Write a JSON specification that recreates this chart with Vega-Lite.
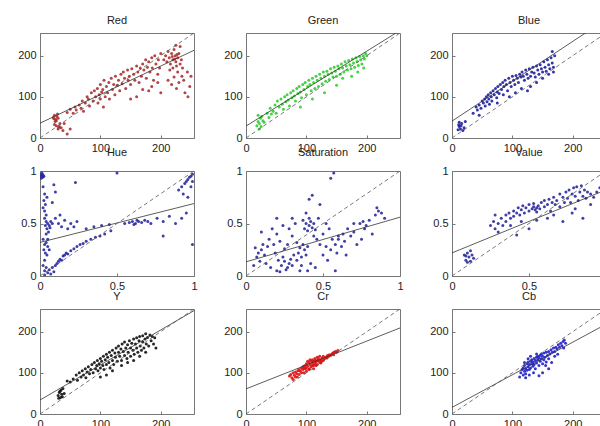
{
"$schema":"https://vega.github.io/schema/vega-lite/v6.json",
"padding":{"left":17,"top":14,"right":0,"bottom":0},
"background":"white",
"datasets":{
"red":[{"x":22,"y":50},{"x":24,"y":55},{"x":26,"y":45},{"x":28,"y":52},{"x":25,"y":40},{"x":30,"y":48},{"x":27,"y":30},{"x":32,"y":28},{"x":30,"y":22},{"x":35,"y":25},{"x":33,"y":35},{"x":24,"y":33},{"x":29,"y":58},{"x":38,"y":18},{"x":45,"y":10},{"x":50,"y":22},{"x":40,"y":35},{"x":23,"y":47},{"x":27,"y":42},{"x":31,"y":26},
{"x":45,"y":62},{"x":50,"y":70},{"x":55,"y":60},{"x":58,"y":75},{"x":60,"y":68},{"x":65,"y":80},{"x":68,"y":72},{"x":70,"y":90},{"x":72,"y":65},{"x":75,"y":85},{"x":78,"y":100},{"x":80,"y":95},{"x":82,"y":78},{"x":85,"y":110},{"x":88,"y":90},{"x":90,"y":115},{"x":92,"y":100},{"x":95,"y":120},{"x":96,"y":85},{"x":98,"y":105},{"x":100,"y":130},{"x":100,"y":95},{"x":102,"y":112},{"x":104,"y":118},{"x":105,"y":75},{"x":106,"y":140},{"x":108,"y":100},{"x":110,"y":125},{"x":112,"y":110},{"x":114,"y":135},{"x":115,"y":95},{"x":118,"y":145},{"x":120,"y":118},{"x":122,"y":130},{"x":124,"y":105},{"x":125,"y":150},{"x":128,"y":128},{"x":130,"y":140},{"x":132,"y":115},{"x":134,"y":155},{"x":136,"y":132},{"x":138,"y":160},{"x":140,"y":145},{"x":142,"y":120},{"x":145,"y":165},{"x":146,"y":140},{"x":148,"y":150},{"x":150,"y":130},{"x":152,"y":168},{"x":155,"y":155},{"x":157,"y":140},{"x":160,"y":175},{"x":162,"y":160},{"x":164,"y":135},{"x":166,"y":170},{"x":168,"y":150},{"x":170,"y":180},{"x":172,"y":165},{"x":175,"y":190},{"x":176,"y":145},{"x":178,"y":172},{"x":180,"y":185},{"x":182,"y":160},{"x":185,"y":195},{"x":186,"y":170},{"x":188,"y":140},{"x":190,"y":200},{"x":192,"y":180},{"x":195,"y":155},{"x":196,"y":190},{"x":198,"y":170},{"x":200,"y":205},
{"x":205,"y":190},{"x":208,"y":200},{"x":210,"y":185},{"x":212,"y":210},{"x":214,"y":195},{"x":216,"y":180},{"x":218,"y":205},{"x":220,"y":190},{"x":222,"y":215},{"x":224,"y":200},{"x":225,"y":185},{"x":226,"y":175},{"x":228,"y":195},{"x":230,"y":205},{"x":232,"y":180},{"x":234,"y":190},{"x":236,"y":170},{"x":215,"y":165},{"x":220,"y":170},{"x":228,"y":160},{"x":225,"y":225},{"x":232,"y":222},{"x":219,"y":198},{"x":223,"y":192},{"x":227,"y":203},
{"x":212,"y":140},{"x":218,"y":130},{"x":222,"y":148},{"x":226,"y":120},{"x":230,"y":135},{"x":235,"y":150},{"x":240,"y":110},{"x":245,"y":100},{"x":248,"y":125},{"x":244,"y":160},{"x":250,"y":150},{"x":238,"y":140},{"x":200,"y":110},{"x":195,"y":135},{"x":180,"y":115},{"x":185,"y":125},{"x":170,"y":118},{"x":160,"y":100},{"x":150,"y":95}],
"green":[{"x":18,"y":30},{"x":20,"y":40},{"x":22,"y":35},{"x":24,"y":48},{"x":20,"y":55},{"x":25,"y":28},{"x":28,"y":42},{"x":26,"y":52},{"x":22,"y":22},{"x":30,"y":38},
{"x":35,"y":60},{"x":38,"y":50},{"x":40,"y":72},{"x":42,"y":58},{"x":45,"y":65},{"x":48,"y":80},{"x":50,"y":60},{"x":52,"y":90},{"x":55,"y":75},{"x":58,"y":95},{"x":60,"y":82},{"x":62,"y":70},{"x":64,"y":100},{"x":66,"y":88},{"x":68,"y":105},{"x":70,"y":92},{"x":72,"y":78},{"x":74,"y":110},{"x":76,"y":98},{"x":78,"y":115},{"x":80,"y":102},{"x":82,"y":90},{"x":84,"y":120},{"x":86,"y":108},{"x":88,"y":125},{"x":90,"y":112},{"x":92,"y":98},{"x":94,"y":130},{"x":96,"y":118},{"x":98,"y":135},{"x":100,"y":105},{"x":102,"y":125},{"x":104,"y":140},{"x":106,"y":130},{"x":108,"y":115},{"x":110,"y":145},{"x":112,"y":135},{"x":114,"y":120},{"x":116,"y":150},{"x":118,"y":140},{"x":120,"y":125},{"x":122,"y":155},{"x":124,"y":145},{"x":126,"y":132},{"x":128,"y":160},{"x":130,"y":150},{"x":132,"y":138},{"x":134,"y":162},{"x":136,"y":155},{"x":138,"y":142},{"x":140,"y":168},{"x":142,"y":158},{"x":144,"y":148},{"x":146,"y":172},{"x":148,"y":162},{"x":150,"y":150},{"x":152,"y":175},{"x":154,"y":168},{"x":156,"y":155},{"x":158,"y":180},{"x":160,"y":170},{"x":162,"y":160},{"x":164,"y":185},{"x":166,"y":175},{"x":168,"y":165},{"x":170,"y":188},{"x":172,"y":178},{"x":174,"y":168},{"x":176,"y":192},{"x":178,"y":182},{"x":180,"y":172},{"x":182,"y":195},{"x":184,"y":186},{"x":186,"y":176},{"x":188,"y":198},{"x":190,"y":190},{"x":192,"y":180},{"x":194,"y":200},{"x":196,"y":192},{"x":198,"y":205},{"x":200,"y":200},{"x":195,"y":170},{"x":185,"y":160},{"x":175,"y":150},{"x":160,"y":145},{"x":150,"y":128},{"x":90,"y":75},{"x":110,"y":95},{"x":130,"y":110}],
"blue":[{"x":10,"y":20},{"x":12,"y":28},{"x":14,"y":22},{"x":16,"y":35},{"x":12,"y":38},{"x":18,"y":18},{"x":15,"y":30},{"x":20,"y":25},{"x":11,"y":32},{"x":22,"y":40},
{"x":35,"y":60},{"x":40,"y":75},{"x":42,"y":68},{"x":45,"y":80},{"x":48,"y":72},{"x":50,"y":90},{"x":52,"y":85},{"x":54,"y":95},{"x":55,"y":78},{"x":57,"y":100},{"x":58,"y":88},{"x":60,"y":105},{"x":61,"y":95},{"x":62,"y":82},{"x":64,"y":110},{"x":65,"y":100},{"x":66,"y":90},{"x":68,"y":115},{"x":70,"y":105},{"x":72,"y":120},{"x":74,"y":98},{"x":75,"y":112},{"x":76,"y":125},{"x":78,"y":108},{"x":80,"y":130},{"x":82,"y":118},{"x":84,"y":135},{"x":85,"y":105},{"x":86,"y":125},{"x":88,"y":140},{"x":90,"y":130},{"x":92,"y":115},{"x":94,"y":145},{"x":96,"y":135},{"x":98,"y":125},{"x":100,"y":150},{"x":102,"y":140},{"x":104,"y":130},{"x":106,"y":152},{"x":108,"y":145},{"x":110,"y":135},{"x":112,"y":155},{"x":114,"y":148},{"x":115,"y":120},{"x":116,"y":160},{"x":118,"y":150},{"x":120,"y":140},{"x":122,"y":165},{"x":124,"y":155},{"x":126,"y":145},{"x":128,"y":168},{"x":130,"y":150},{"x":132,"y":160},{"x":134,"y":172},{"x":136,"y":158},{"x":138,"y":148},{"x":140,"y":175},{"x":142,"y":165},{"x":144,"y":155},{"x":146,"y":178},{"x":148,"y":168},{"x":150,"y":160},{"x":152,"y":185},{"x":154,"y":172},{"x":156,"y":162},{"x":158,"y":190},{"x":160,"y":178},{"x":162,"y":168},{"x":164,"y":195},{"x":166,"y":182},{"x":168,"y":172},{"x":170,"y":200},{"x":160,"y":155},{"x":150,"y":145},{"x":140,"y":135},{"x":130,"y":125},{"x":166,"y":210},{"x":168,"y":160},{"x":125,"y":115},{"x":105,"y":110},{"x":95,"y":100},{"x":75,"y":85},{"x":45,"y":55}],
"hue":[{"x":0.005,"y":0.96},{"x":0.01,"y":0.95},{"x":0.015,"y":0.97},{"x":0.008,"y":0.93},{"x":0.02,"y":0.96},{"x":0.012,"y":0.98},{"x":0.018,"y":0.94},{"x":0.025,"y":0.95},
{"x":0.02,"y":0.85},{"x":0.03,"y":0.78},{"x":0.025,"y":0.72},{"x":0.035,"y":0.68},{"x":0.03,"y":0.62},{"x":0.04,"y":0.58},{"x":0.045,"y":0.75},{"x":0.02,"y":0.65},{"x":0.09,"y":0.87},{"x":0.1,"y":0.8},{"x":0.08,"y":0.7},
{"x":0.03,"y":0.55},{"x":0.04,"y":0.52},{"x":0.05,"y":0.5},{"x":0.06,"y":0.48},{"x":0.045,"y":0.45},{"x":0.055,"y":0.42},{"x":0.07,"y":0.52},{"x":0.065,"y":0.46},{"x":0.035,"y":0.48},{"x":0.08,"y":0.5},{"x":0.04,"y":0.4},
{"x":0.1,"y":0.55},{"x":0.12,"y":0.5},{"x":0.14,"y":0.47},{"x":0.16,"y":0.53},{"x":0.18,"y":0.45},{"x":0.2,"y":0.5},{"x":0.22,"y":0.47},{"x":0.24,"y":0.52},{"x":0.13,"y":0.58},
{"x":0.02,"y":0.35},{"x":0.03,"y":0.3},{"x":0.04,"y":0.32},{"x":0.025,"y":0.25},{"x":0.035,"y":0.22},{"x":0.05,"y":0.28},{"x":0.045,"y":0.2},{"x":0.03,"y":0.15},{"x":0.05,"y":0.35},{"x":0.06,"y":0.25},
{"x":0.02,"y":0.1},{"x":0.03,"y":0.05},{"x":0.04,"y":0.08},{"x":0.05,"y":0.03},{"x":0.06,"y":0.06},{"x":0.07,"y":0.02},{"x":0.08,"y":0.08},{"x":0.03,"y":0.01},{"x":0.09,"y":0.04},{"x":0.1,"y":0.1},
{"x":0.11,"y":0.12},{"x":0.12,"y":0.14},{"x":0.13,"y":0.16},{"x":0.14,"y":0.15},{"x":0.15,"y":0.19},{"x":0.16,"y":0.2},{"x":0.17,"y":0.22},{"x":0.18,"y":0.21},{"x":0.2,"y":0.24},{"x":0.22,"y":0.26},{"x":0.24,"y":0.28},{"x":0.26,"y":0.3},{"x":0.28,"y":0.31},{"x":0.3,"y":0.33},{"x":0.33,"y":0.35},{"x":0.36,"y":0.37},{"x":0.39,"y":0.38},{"x":0.42,"y":0.4},{"x":0.46,"y":0.43},
{"x":0.3,"y":0.45},{"x":0.35,"y":0.47},{"x":0.4,"y":0.48},{"x":0.45,"y":0.49},{"x":0.55,"y":0.5},{"x":0.58,"y":0.51},{"x":0.6,"y":0.52},{"x":0.62,"y":0.5},{"x":0.64,"y":0.52},{"x":0.66,"y":0.51},{"x":0.68,"y":0.53},{"x":0.7,"y":0.52},{"x":0.72,"y":0.5},{"x":0.63,"y":0.53},{"x":0.61,"y":0.49},
{"x":0.76,"y":0.55},{"x":0.8,"y":0.52},{"x":0.84,"y":0.57},{"x":0.88,"y":0.5},{"x":0.92,"y":0.55},{"x":0.95,"y":0.6},{"x":0.8,"y":0.38},{"x":0.99,"y":0.3},{"x":0.23,"y":0.89},{"x":0.5,"y":0.98},
{"x":0.9,"y":0.82},{"x":0.92,"y":0.85},{"x":0.94,"y":0.88},{"x":0.95,"y":0.9},{"x":0.96,"y":0.92},{"x":0.97,"y":0.94},{"x":0.98,"y":0.95},{"x":0.99,"y":0.97},{"x":0.93,"y":0.78},{"x":0.98,"y":0.85},{"x":0.96,"y":0.75},{"x":0.99,"y":0.9}],
"sat":[{"x":0.06,"y":0.27},{"x":0.08,"y":0.22},{"x":0.1,"y":0.25},{"x":0.12,"y":0.2},{"x":0.14,"y":0.28},{"x":0.07,"y":0.18},{"x":0.11,"y":0.3},{"x":0.09,"y":0.14},{"x":0.05,"y":0.1},{"x":0.13,"y":0.12},
{"x":0.15,"y":0.35},{"x":0.18,"y":0.3},{"x":0.2,"y":0.4},{"x":0.22,"y":0.33},{"x":0.17,"y":0.45},{"x":0.24,"y":0.48},{"x":0.19,"y":0.22},{"x":0.21,"y":0.15},{"x":0.16,"y":0.08},{"x":0.2,"y":0.05},
{"x":0.23,"y":0.1},{"x":0.25,"y":0.14},{"x":0.27,"y":0.08},{"x":0.24,"y":0.18},{"x":0.28,"y":0.12},{"x":0.26,"y":0.06},{"x":0.29,"y":0.16},{"x":0.3,"y":0.1},{"x":0.22,"y":0.04},{"x":0.31,"y":0.2},
{"x":0.28,"y":0.45},{"x":0.3,"y":0.38},{"x":0.32,"y":0.5},{"x":0.27,"y":0.3},{"x":0.25,"y":0.26},{"x":0.33,"y":0.32},{"x":0.34,"y":0.22},{"x":0.35,"y":0.27},{"x":0.36,"y":0.18},{"x":0.38,"y":0.25},
{"x":0.37,"y":0.3},{"x":0.39,"y":0.2},{"x":0.4,"y":0.28},{"x":0.33,"y":0.15},{"x":0.36,"y":0.1},{"x":0.4,"y":0.05},{"x":0.42,"y":0.12},{"x":0.38,"y":0.45},{"x":0.39,"y":0.5},{"x":0.4,"y":0.43},
{"x":0.41,"y":0.48},{"x":0.42,"y":0.52},{"x":0.43,"y":0.46},{"x":0.44,"y":0.5},{"x":0.45,"y":0.44},{"x":0.37,"y":0.53},{"x":0.41,"y":0.55},{"x":0.44,"y":0.38},{"x":0.46,"y":0.35},{"x":0.48,"y":0.3},
{"x":0.5,"y":0.4},{"x":0.52,"y":0.28},{"x":0.5,"y":0.2},{"x":0.53,"y":0.15},{"x":0.55,"y":0.25},{"x":0.56,"y":0.35},{"x":0.54,"y":0.45},{"x":0.58,"y":0.3},{"x":0.6,"y":0.35},{"x":0.62,"y":0.28},
{"x":0.64,"y":0.33},{"x":0.6,"y":0.38},{"x":0.63,"y":0.4},{"x":0.59,"y":0.22},{"x":0.66,"y":0.45},{"x":0.68,"y":0.38},{"x":0.7,"y":0.42},{"x":0.72,"y":0.3},{"x":0.65,"y":0.2},{"x":0.7,"y":0.5},
{"x":0.74,"y":0.5},{"x":0.76,"y":0.52},{"x":0.78,"y":0.48},{"x":0.8,"y":0.53},{"x":0.77,"y":0.45},{"x":0.82,"y":0.4},{"x":0.84,"y":0.58},{"x":0.86,"y":0.62},{"x":0.88,"y":0.6},{"x":0.85,"y":0.65},
{"x":0.9,"y":0.55},{"x":0.75,"y":0.35},{"x":0.57,"y":0.98},{"x":0.55,"y":0.93},{"x":0.43,"y":0.77},{"x":0.41,"y":0.73},{"x":0.48,"y":0.68},{"x":0.39,"y":0.6},{"x":0.2,"y":0.55},{"x":0.1,"y":0.42},
{"x":0.47,"y":0.55},{"x":0.52,"y":0.5},{"x":0.3,"y":0.55},{"x":0.35,"y":0.05},{"x":0.45,"y":0.08},{"x":0.58,"y":0.05}],
"val":[{"x":0.08,"y":0.2},{"x":0.09,"y":0.15},{"x":0.1,"y":0.22},{"x":0.11,"y":0.18},{"x":0.12,"y":0.14},{"x":0.1,"y":0.13},{"x":0.13,"y":0.2},{"x":0.12,"y":0.24},{"x":0.14,"y":0.17},{"x":0.09,"y":0.19},
{"x":0.25,"y":0.48},{"x":0.27,"y":0.52},{"x":0.28,"y":0.45},{"x":0.3,"y":0.5},{"x":0.3,"y":0.42},{"x":0.32,"y":0.55},{"x":0.33,"y":0.48},{"x":0.35,"y":0.58},{"x":0.35,"y":0.52},{"x":0.37,"y":0.6},
{"x":0.38,"y":0.55},{"x":0.4,"y":0.62},{"x":0.4,"y":0.57},{"x":0.42,"y":0.6},{"x":0.43,"y":0.65},{"x":0.44,"y":0.58},{"x":0.45,"y":0.63},{"x":0.46,"y":0.67},{"x":0.47,"y":0.6},{"x":0.48,"y":0.65},
{"x":0.5,"y":0.62},{"x":0.5,"y":0.68},{"x":0.52,"y":0.64},{"x":0.53,"y":0.66},{"x":0.54,"y":0.63},{"x":0.55,"y":0.65},{"x":0.56,"y":0.67},{"x":0.55,"y":0.61},{"x":0.57,"y":0.64},{"x":0.53,"y":0.69},
{"x":0.58,"y":0.7},{"x":0.6,"y":0.66},{"x":0.6,"y":0.72},{"x":0.62,"y":0.68},{"x":0.63,"y":0.73},{"x":0.64,"y":0.62},{"x":0.65,"y":0.7},{"x":0.66,"y":0.75},{"x":0.67,"y":0.68},{"x":0.68,"y":0.72},
{"x":0.7,"y":0.78},{"x":0.7,"y":0.66},{"x":0.72,"y":0.75},{"x":0.73,"y":0.7},{"x":0.74,"y":0.8},{"x":0.75,"y":0.74},{"x":0.76,"y":0.82},{"x":0.77,"y":0.7},{"x":0.78,"y":0.78},{"x":0.79,"y":0.84},
{"x":0.8,"y":0.76},{"x":0.81,"y":0.85},{"x":0.82,"y":0.72},{"x":0.83,"y":0.8},{"x":0.84,"y":0.86},{"x":0.85,"y":0.76},{"x":0.86,"y":0.82},{"x":0.87,"y":0.74},{"x":0.88,"y":0.8},{"x":0.9,"y":0.78},
{"x":0.92,"y":0.75},{"x":0.94,"y":0.8},{"x":0.96,"y":0.84},{"x":0.72,"y":0.52},{"x":0.78,"y":0.6},{"x":0.85,"y":0.55},{"x":0.8,"y":0.64},{"x":0.9,"y":0.68},{"x":0.66,"y":0.58},{"x":0.62,"y":0.55},
{"x":0.42,"y":0.39},{"x":0.5,"y":0.45},{"x":0.55,"y":0.53},{"x":0.38,"y":0.48},{"x":0.45,"y":0.52},{"x":0.28,"y":0.58}],
"ylum":[{"x":30,"y":45},{"x":32,"y":52},{"x":34,"y":40},{"x":35,"y":58},{"x":36,"y":48},{"x":38,"y":62},{"x":33,"y":55},{"x":37,"y":42},{"x":40,"y":50},{"x":31,"y":38},
{"x":45,"y":80},{"x":50,"y":78},{"x":55,"y":85},{"x":60,"y":95},{"x":62,"y":82},{"x":65,"y":100},{"x":68,"y":90},{"x":70,"y":105},{"x":72,"y":95},{"x":75,"y":110},{"x":76,"y":88},{"x":78,"y":102},{"x":80,"y":115},{"x":82,"y":98},{"x":84,"y":108},{"x":86,"y":120},{"x":88,"y":100},{"x":90,"y":125},{"x":92,"y":110},{"x":94,"y":118},{"x":95,"y":130},{"x":96,"y":105},{"x":98,"y":122},{"x":100,"y":135},{"x":100,"y":112},{"x":102,"y":128},{"x":104,"y":118},{"x":105,"y":140},{"x":106,"y":108},{"x":108,"y":132},{"x":110,"y":145},{"x":110,"y":120},{"x":112,"y":138},{"x":114,"y":125},{"x":115,"y":150},{"x":116,"y":112},{"x":118,"y":142},{"x":120,"y":130},{"x":120,"y":155},{"x":122,"y":120},{"x":124,"y":148},{"x":125,"y":138},{"x":126,"y":160},{"x":128,"y":128},{"x":130,"y":150},{"x":130,"y":165},{"x":132,"y":140},{"x":134,"y":158},{"x":135,"y":130},{"x":136,"y":170},{"x":138,"y":152},{"x":140,"y":142},{"x":140,"y":175},{"x":142,"y":160},{"x":144,"y":135},{"x":145,"y":168},{"x":146,"y":150},{"x":148,"y":178},{"x":150,"y":160},{"x":150,"y":140},{"x":152,"y":172},{"x":154,"y":155},{"x":155,"y":182},{"x":156,"y":145},{"x":158,"y":170},{"x":160,"y":185},{"x":160,"y":160},{"x":162,"y":150},{"x":164,"y":178},{"x":165,"y":188},{"x":166,"y":165},{"x":168,"y":155},{"x":170,"y":190},{"x":170,"y":175},{"x":172,"y":160},{"x":174,"y":182},{"x":175,"y":195},{"x":176,"y":170},{"x":178,"y":186},{"x":180,"y":165},{"x":182,"y":192},{"x":184,"y":178},{"x":186,"y":188},{"x":188,"y":170},{"x":190,"y":185},{"x":192,"y":160},{"x":175,"y":150},{"x":165,"y":140},{"x":155,"y":130},{"x":145,"y":125},{"x":135,"y":118},{"x":120,"y":105},{"x":110,"y":95},{"x":100,"y":90}],
"cr":[{"x":72,"y":92},{"x":74,"y":96},{"x":76,"y":88},{"x":78,"y":100},{"x":80,"y":94},{"x":82,"y":102},{"x":84,"y":98},{"x":86,"y":105},{"x":85,"y":90},{"x":88,"y":108},
{"x":90,"y":104},{"x":92,"y":112},{"x":94,"y":108},{"x":95,"y":116},{"x":96,"y":100},{"x":98,"y":118},{"x":100,"y":112},{"x":100,"y":122},{"x":102,"y":116},{"x":104,"y":125},
{"x":105,"y":110},{"x":106,"y":120},{"x":108,"y":128},{"x":108,"y":115},{"x":110,"y":124},{"x":110,"y":132},{"x":112,"y":118},{"x":112,"y":128},{"x":114,"y":135},{"x":114,"y":122},
{"x":115,"y":130},{"x":116,"y":126},{"x":118,"y":138},{"x":118,"y":120},{"x":120,"y":130},{"x":120,"y":134},{"x":122,"y":125},{"x":122,"y":140},{"x":124,"y":132},{"x":125,"y":128},
{"x":126,"y":136},{"x":128,"y":130},{"x":128,"y":140},{"x":130,"y":134},{"x":132,"y":138},{"x":134,"y":136},{"x":135,"y":142},{"x":136,"y":140},{"x":138,"y":144},{"x":140,"y":142},
{"x":142,"y":146},{"x":144,"y":148},{"x":145,"y":144},{"x":146,"y":150},{"x":148,"y":152},{"x":150,"y":150},{"x":152,"y":154},{"x":106,"y":132},{"x":102,"y":128},{"x":98,"y":110},
{"x":96,"y":112},{"x":110,"y":118},{"x":116,"y":118},{"x":104,"y":108},{"x":92,"y":100},{"x":88,"y":96},{"x":100,"y":104},{"x":118,"y":130},{"x":124,"y":124},{"x":112,"y":110},
{"x":78,"y":84},{"x":82,"y":90}],
"cb":[{"x":112,"y":90},{"x":114,"y":100},{"x":116,"y":108},{"x":118,"y":95},{"x":118,"y":112},{"x":120,"y":104},{"x":120,"y":118},{"x":122,"y":110},{"x":122,"y":98},{"x":124,"y":122},
{"x":124,"y":106},{"x":126,"y":115},{"x":126,"y":126},{"x":128,"y":108},{"x":128,"y":120},{"x":130,"y":128},{"x":130,"y":112},{"x":132,"y":122},{"x":132,"y":132},{"x":134,"y":116},
{"x":134,"y":126},{"x":136,"y":135},{"x":136,"y":120},{"x":138,"y":130},{"x":138,"y":110},{"x":140,"y":138},{"x":140,"y":124},{"x":142,"y":132},{"x":142,"y":140},{"x":144,"y":118},
{"x":144,"y":136},{"x":146,"y":142},{"x":146,"y":128},{"x":148,"y":134},{"x":148,"y":146},{"x":150,"y":122},{"x":150,"y":140},{"x":152,"y":148},{"x":152,"y":132},{"x":154,"y":138},
{"x":156,"y":150},{"x":156,"y":126},{"x":158,"y":142},{"x":160,"y":152},{"x":160,"y":134},{"x":162,"y":146},{"x":164,"y":156},{"x":166,"y":150},{"x":168,"y":160},{"x":170,"y":152},
{"x":172,"y":162},{"x":174,"y":158},{"x":176,"y":168},{"x":178,"y":162},{"x":180,"y":172},{"x":182,"y":166},{"x":184,"y":176},{"x":186,"y":180},{"x":188,"y":172},{"x":185,"y":160},
{"x":144,"y":93},{"x":122,"y":88},{"x":150,"y":100},{"x":160,"y":110},{"x":155,"y":118},{"x":165,"y":125},{"x":170,"y":140},{"x":175,"y":145},{"x":135,"y":100},{"x":128,"y":95},
{"x":130,"y":140},{"x":126,"y":134},{"x":120,"y":125},{"x":140,"y":146}]
},
"columns":3,
"spacing":{"row":33,"column":52},
"bounds":"flush",
"concat":[
{"title":"Red","width":154,"height":105,"layer":[
 {"data":{"name":"red"},"mark":{"type":"circle","size":9,"color":"#a83232","opacity":0.9,"clip":true},"encoding":{"x":{"field":"x","type":"quantitative","scale":{"domain":[0,255],"nice":false},"axis":{"title":null,"values":[0,100,200],"format":"d"}},"y":{"field":"y","type":"quantitative","scale":{"domain":[0,255],"nice":false},"axis":{"title":null,"values":[0,100,200],"format":"d"}}}},
 {"data":{"values":[{"x":0,"y":36},{"x":255,"y":213}]},"mark":{"type":"line","clip":true,"color":"#333","strokeWidth":0.8},"encoding":{"x":{"field":"x","type":"quantitative"},"y":{"field":"y","type":"quantitative"}}},
 {"data":{"values":[{"x":0,"y":0},{"x":255,"y":255}]},"mark":{"type":"line","clip":true,"color":"#555","strokeWidth":0.8,"strokeDash":[4,3]},"encoding":{"x":{"field":"x","type":"quantitative"},"y":{"field":"y","type":"quantitative"}}}
]},
{"title":"Green","width":154,"height":105,"layer":[
 {"data":{"name":"green"},"mark":{"type":"circle","size":9,"color":"#33cc33","opacity":0.9,"clip":true},"encoding":{"x":{"field":"x","type":"quantitative","scale":{"domain":[0,255],"nice":false},"axis":{"title":null,"values":[0,100,200],"format":"d"}},"y":{"field":"y","type":"quantitative","scale":{"domain":[0,255],"nice":false},"axis":{"title":null,"values":[0,100,200],"format":"d"}}}},
 {"data":{"values":[{"x":0,"y":29},{"x":255,"y":261}]},"mark":{"type":"line","clip":true,"color":"#333","strokeWidth":0.8},"encoding":{"x":{"field":"x","type":"quantitative"},"y":{"field":"y","type":"quantitative"}}},
 {"data":{"values":[{"x":0,"y":0},{"x":255,"y":255}]},"mark":{"type":"line","clip":true,"color":"#555","strokeWidth":0.8,"strokeDash":[4,3]},"encoding":{"x":{"field":"x","type":"quantitative"},"y":{"field":"y","type":"quantitative"}}}
]},
{"title":"Blue","width":154,"height":105,"layer":[
 {"data":{"name":"blue"},"mark":{"type":"circle","size":9,"color":"#1f1f9f","opacity":0.9,"clip":true},"encoding":{"x":{"field":"x","type":"quantitative","scale":{"domain":[0,255],"nice":false},"axis":{"title":null,"values":[0,100,200],"format":"d"}},"y":{"field":"y","type":"quantitative","scale":{"domain":[0,255],"nice":false},"axis":{"title":null,"values":[0,100,200],"format":"d"}}}},
 {"data":{"values":[{"x":0,"y":41},{"x":255,"y":288}]},"mark":{"type":"line","clip":true,"color":"#333","strokeWidth":0.8},"encoding":{"x":{"field":"x","type":"quantitative"},"y":{"field":"y","type":"quantitative"}}},
 {"data":{"values":[{"x":0,"y":0},{"x":255,"y":255}]},"mark":{"type":"line","clip":true,"color":"#555","strokeWidth":0.8,"strokeDash":[4,3]},"encoding":{"x":{"field":"x","type":"quantitative"},"y":{"field":"y","type":"quantitative"}}}
]},
{"title":"Hue","width":154,"height":105,"layer":[
 {"data":{"name":"hue"},"mark":{"type":"circle","size":9,"color":"#2a2aa0","opacity":0.9,"clip":true},"encoding":{"x":{"field":"x","type":"quantitative","scale":{"domain":[0,1],"nice":false},"axis":{"title":null,"values":[0,0.5,1],"format":"~g"}},"y":{"field":"y","type":"quantitative","scale":{"domain":[0,1],"nice":false},"axis":{"title":null,"values":[0,0.5,1],"format":"~g"}}}},
 {"data":{"values":[{"x":0,"y":0.32},{"x":1,"y":0.69}]},"mark":{"type":"line","clip":true,"color":"#333","strokeWidth":0.8},"encoding":{"x":{"field":"x","type":"quantitative"},"y":{"field":"y","type":"quantitative"}}},
 {"data":{"values":[{"x":0,"y":0},{"x":1,"y":1}]},"mark":{"type":"line","clip":true,"color":"#555","strokeWidth":0.8,"strokeDash":[4,3]},"encoding":{"x":{"field":"x","type":"quantitative"},"y":{"field":"y","type":"quantitative"}}}
]},
{"title":"Saturation","width":154,"height":105,"layer":[
 {"data":{"name":"sat"},"mark":{"type":"circle","size":9,"color":"#2a2a9a","opacity":0.9,"clip":true},"encoding":{"x":{"field":"x","type":"quantitative","scale":{"domain":[0,1],"nice":false},"axis":{"title":null,"values":[0,0.5,1],"format":"~g"}},"y":{"field":"y","type":"quantitative","scale":{"domain":[0,1],"nice":false},"axis":{"title":null,"values":[0,0.5,1],"format":"~g"}}}},
 {"data":{"values":[{"x":0,"y":0.135},{"x":1,"y":0.56}]},"mark":{"type":"line","clip":true,"color":"#333","strokeWidth":0.8},"encoding":{"x":{"field":"x","type":"quantitative"},"y":{"field":"y","type":"quantitative"}}},
 {"data":{"values":[{"x":0,"y":0},{"x":1,"y":1}]},"mark":{"type":"line","clip":true,"color":"#555","strokeWidth":0.8,"strokeDash":[4,3]},"encoding":{"x":{"field":"x","type":"quantitative"},"y":{"field":"y","type":"quantitative"}}}
]},
{"title":"Value","width":154,"height":105,"layer":[
 {"data":{"name":"val"},"mark":{"type":"circle","size":9,"color":"#2a2a9a","opacity":0.9,"clip":true},"encoding":{"x":{"field":"x","type":"quantitative","scale":{"domain":[0,1],"nice":false},"axis":{"title":null,"values":[0,0.5,1],"format":"~g"}},"y":{"field":"y","type":"quantitative","scale":{"domain":[0,1],"nice":false},"axis":{"title":null,"values":[0,0.5,1],"format":"~g"}}}},
 {"data":{"values":[{"x":0,"y":0.22},{"x":1,"y":0.82}]},"mark":{"type":"line","clip":true,"color":"#333","strokeWidth":0.8},"encoding":{"x":{"field":"x","type":"quantitative"},"y":{"field":"y","type":"quantitative"}}},
 {"data":{"values":[{"x":0,"y":0},{"x":1,"y":1}]},"mark":{"type":"line","clip":true,"color":"#555","strokeWidth":0.8,"strokeDash":[4,3]},"encoding":{"x":{"field":"x","type":"quantitative"},"y":{"field":"y","type":"quantitative"}}}
]},
{"title":"Y","width":154,"height":105,"layer":[
 {"data":{"name":"ylum"},"mark":{"type":"circle","size":9,"color":"#111111","opacity":0.9,"clip":true},"encoding":{"x":{"field":"x","type":"quantitative","scale":{"domain":[0,255],"nice":false},"axis":{"title":null,"values":[0,100,200],"format":"d"}},"y":{"field":"y","type":"quantitative","scale":{"domain":[0,255],"nice":false},"axis":{"title":null,"values":[0,100,200],"format":"d"}}}},
 {"data":{"values":[{"x":0,"y":34},{"x":255,"y":251}]},"mark":{"type":"line","clip":true,"color":"#333","strokeWidth":0.8},"encoding":{"x":{"field":"x","type":"quantitative"},"y":{"field":"y","type":"quantitative"}}},
 {"data":{"values":[{"x":0,"y":0},{"x":255,"y":255}]},"mark":{"type":"line","clip":true,"color":"#555","strokeWidth":0.8,"strokeDash":[4,3]},"encoding":{"x":{"field":"x","type":"quantitative"},"y":{"field":"y","type":"quantitative"}}}
]},
{"title":"Cr","width":154,"height":105,"layer":[
 {"data":{"name":"cr"},"mark":{"type":"circle","size":9,"color":"#e01010","opacity":0.9,"clip":true},"encoding":{"x":{"field":"x","type":"quantitative","scale":{"domain":[0,255],"nice":false},"axis":{"title":null,"values":[0,100,200],"format":"d"}},"y":{"field":"y","type":"quantitative","scale":{"domain":[0,255],"nice":false},"axis":{"title":null,"values":[0,100,200],"format":"d"}}}},
 {"data":{"values":[{"x":0,"y":61},{"x":255,"y":209}]},"mark":{"type":"line","clip":true,"color":"#333","strokeWidth":0.8},"encoding":{"x":{"field":"x","type":"quantitative"},"y":{"field":"y","type":"quantitative"}}},
 {"data":{"values":[{"x":0,"y":0},{"x":255,"y":255}]},"mark":{"type":"line","clip":true,"color":"#555","strokeWidth":0.8,"strokeDash":[4,3]},"encoding":{"x":{"field":"x","type":"quantitative"},"y":{"field":"y","type":"quantitative"}}}
]},
{"title":"Cb","width":154,"height":105,"layer":[
 {"data":{"name":"cb"},"mark":{"type":"circle","size":9,"color":"#2020c8","opacity":0.9,"clip":true},"encoding":{"x":{"field":"x","type":"quantitative","scale":{"domain":[0,255],"nice":false},"axis":{"title":null,"values":[0,100,200],"format":"d"}},"y":{"field":"y","type":"quantitative","scale":{"domain":[0,255],"nice":false},"axis":{"title":null,"values":[0,100,200],"format":"d"}}}},
 {"data":{"values":[{"x":0,"y":16},{"x":255,"y":218}]},"mark":{"type":"line","clip":true,"color":"#333","strokeWidth":0.8},"encoding":{"x":{"field":"x","type":"quantitative"},"y":{"field":"y","type":"quantitative"}}},
 {"data":{"values":[{"x":0,"y":0},{"x":255,"y":255}]},"mark":{"type":"line","clip":true,"color":"#555","strokeWidth":0.8,"strokeDash":[4,3]},"encoding":{"x":{"field":"x","type":"quantitative"},"y":{"field":"y","type":"quantitative"}}}
]}
],
"config":{
 "view":{"stroke":"#777777","strokeWidth":1},
 "axis":{"grid":false,"ticks":true,"tickSize":-3,"tickColor":"#777777","domainColor":"#777777","labelFont":"Liberation Sans","labelFontSize":11,"labelColor":"#222222","labelPadding":7,"labelFlush":false,"labelOverlap":false},
 "title":{"font":"Liberation Sans","fontSize":11,"fontWeight":"normal","color":"#222222","offset":7,"anchor":"middle"}
}
}
